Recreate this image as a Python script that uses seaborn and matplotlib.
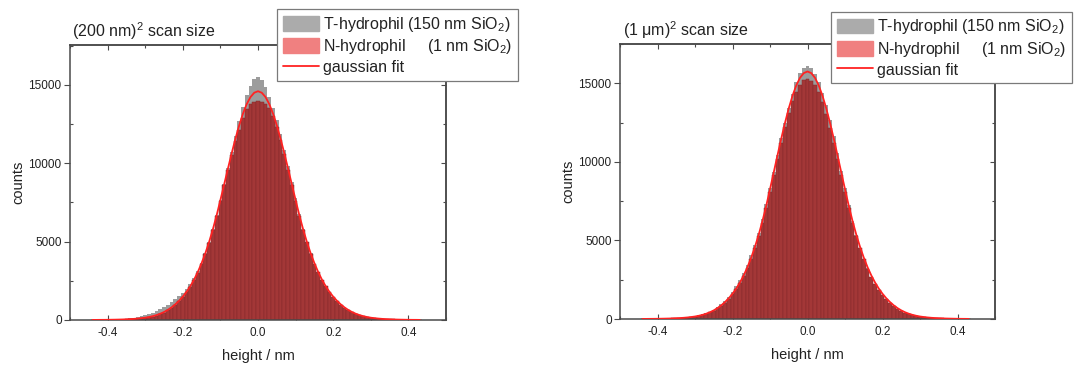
import numpy as np
import pandas as pd
import seaborn as sns
import matplotlib.pyplot as plt
from matplotlib.patches import Patch
from matplotlib.lines import Line2D
from matplotlib.ticker import MultipleLocator, FixedLocator

# ---------------- data ----------------
bin_start = -0.44      # nm, centre of first bin
bin_width = 0.01       # nm

# (200 nm)^2 scan size  -- values from -0.44 nm to 0.43 nm
fit_200 = [4, 6, 9, 10, 13, 18, 22, 28, 35, 45,
           57, 72, 92, 117, 147, 190, 244, 312, 400, 508,
           642, 804, 999, 1225, 1489, 1797, 2158, 2578, 3065, 3627,
           4263, 4983, 5789, 6680, 7655, 8653, 9658, 10640, 11572, 12423,
           13168, 13777, 14228, 14505,
           14600,
           14505, 14228, 13777, 13168, 12423, 11572, 10640, 9658, 8653, 7655,
           6680, 5789, 4983, 4263, 3627, 3065, 2578, 2158, 1797, 1489,
           1225, 999, 804, 642, 508, 400, 312, 244, 190, 147,
           117, 92, 72, 57, 45, 35, 28, 22, 18, 13,
           10, 9, 6]
n_hydrophil_200 = [2, 3, 4, 6, 8, 11, 15, 20, 27, 36,
                   48, 62, 80, 104, 133, 172, 222, 286, 370, 478,
                   610, 770, 965, 1190, 1455, 1765, 2125, 2545, 3030, 3590,
                   4225, 4945, 5750, 6640, 7610, 8600, 9590, 10540, 11400, 12150,
                   12900, 13450, 13780, 13930,
                   13970,
                   13920, 13790, 13520, 13020, 12300, 11480, 10570, 9600, 8600, 7610,
                   6640, 5750, 4950, 4230, 3600, 3040, 2555, 2140, 1780, 1475,
                   1210, 985, 792, 632, 500, 393, 306, 239, 186, 144,
                   114, 90, 70, 55, 43, 34, 27, 21, 17, 12,
                   9, 8, 5]
t_hydrophil_200 = [3, 4, 6, 9, 12, 17, 24, 34, 48, 66,
                   100, 135, 180, 235, 300, 380, 470, 580, 700, 830,
                   980, 1150, 1330, 1500, 1700, 1950, 2280, 2650, 3100, 3640,
                   4260, 4980, 5790, 6690, 7680, 8700, 9730, 10750, 11760, 12720,
                   13600, 14350, 14950, 15350,
                   15500,
                   15300, 14850, 14250, 13550, 12750, 11850, 10880, 9850, 8800, 7760,
                   6750, 5830, 4990, 4250, 3600, 3030, 2540, 2120, 1760, 1455,
                   1195, 970, 780, 622, 492, 387, 301, 235, 183, 141,
                   112, 88, 69, 54, 42, 33, 26, 20, 16, 11,
                   8, 7, 4]

# (1 um)^2 scan size  -- values from -0.44 nm to 0.43 nm
fit_1um = [5, 6, 9, 11, 14, 19, 24, 30, 38, 49,
           61, 77, 99, 126, 159, 205, 263, 337, 432, 548,
           693, 868, 1077, 1321, 1607, 1939, 2328, 2781, 3306, 3912,
           4599, 5375, 6245, 7206, 8258, 9335, 10419, 11479, 12483, 13402,
           14205, 14862, 15348, 15648,
           15750,
           15648, 15348, 14862, 14205, 13402, 12483, 11479, 10419, 9335, 8258,
           7206, 6245, 5375, 4599, 3912, 3306, 2781, 2328, 1939, 1607,
           1321, 1077, 868, 693, 548, 432, 337, 263, 205, 159,
           126, 99, 77, 61, 49, 38, 30, 24, 19, 14,
           11, 9, 6]
n_hydrophil_1um = [4, 5, 8, 10, 13, 17, 22, 28, 36, 46,
                   58, 73, 94, 120, 152, 197, 254, 326, 418, 532,
                   673, 845, 1050, 1290, 1570, 1895, 2280, 2725, 3240, 3835,
                   4510, 5270, 6120, 7060, 8090, 9140, 10200, 11230, 12200, 13080,
                   13850, 14450, 14900, 15180,
                   15250,
                   15170, 14880, 14420, 13800, 13050, 12180, 11220, 10200, 9150, 8100,
                   7070, 6120, 5260, 4490, 3810, 3210, 2690, 2240, 1860, 1535,
                   1255, 1020, 820, 652, 514, 403, 313, 243, 189, 146,
                   115, 90, 70, 55, 44, 34, 27, 21, 17, 12,
                   10, 8, 5]
t_hydrophil_1um = [4, 5, 8, 10, 13, 18, 23, 30, 39, 50,
                   64, 82, 106, 136, 175, 226, 290, 372, 475, 600,
                   755, 940, 1160, 1420, 1720, 2070, 2470, 2930, 3460, 4060,
                   4740, 5500, 6350, 7290, 8310, 9380, 10450, 11500, 12500, 13430,
                   14300, 15050, 15650, 16000,
                   16100,
                   15950, 15600, 15080, 14400, 13600, 12680, 11650, 10560, 9430, 8320,
                   7250, 6250, 5340, 4540, 3840, 3230, 2700, 2245, 1860, 1535,
                   1255, 1020, 820, 652, 514, 403, 313, 243, 189, 146,
                   115, 90, 70, 55, 44, 34, 27, 21, 17, 12,
                   10, 8, 5]

titles = ["(200 nm)$^2$ scan size", "(1 \u03bcm)$^2$ scan size"]
legend_labels = ["T-hydrophil (150 nm SiO$_2$)",
                 "N-hydrophil     (1 nm SiO$_2$)",
                 "gaussian fit"]
x_label = "height / nm"
y_label = "counts"
x_major = [-0.4, -0.2, 0.0, 0.2, 0.4]
y_major = [0, 5000, 10000, 15000]

# ---------------- style ----------------
sns.set_style("ticks")
plt.rcParams["font.family"] = ["Liberation Sans", "DejaVu Sans"]
plt.rcParams["mathtext.fontset"] = "custom"
plt.rcParams["mathtext.rm"] = "Liberation Sans"
plt.rcParams["mathtext.it"] = "Liberation Sans:italic"
plt.rcParams["mathtext.bf"] = "Liberation Sans:bold"
plt.rcParams["mathtext.default"] = "regular"

GREY = "#9c9c9c"
RED_BAR = "#a33737"
RED_EDGE = "#84292b"
FIT = "#ff2222"
SPINE = "#4a4a4a"
TXT = "#222222"

fig = plt.figure(figsize=(10.78, 3.65), dpi=100)
ax_rects = [[70 / 1078, 45 / 365, 376 / 1078, 275 / 365],
            [620 / 1078, 46 / 365, 375 / 1078, 275 / 365]]
ylims = [17550, 17500]
legend_anchor = [(0.5505, 1.13), (0.5627, 1.117)]
title_pos = [(0.006, 1.011), (0.008, 1.011)]

panels = [(t_hydrophil_200, n_hydrophil_200, fit_200),
          (t_hydrophil_1um, n_hydrophil_1um, fit_1um)]

for i, (grey, red, fit) in enumerate(panels):
    ax = fig.add_axes(ax_rects[i])
    centers = np.round(bin_start + bin_width * np.arange(len(fit)), 2)
    edges = list(np.append(centers - bin_width / 2, centers[-1] + bin_width / 2))
    df = pd.DataFrame({"height": centers, "grey": grey, "red": red, "fit": fit})

    sns.histplot(data=df, x="height", weights="grey", bins=edges, ax=ax,
                 color=GREY, alpha=1, linewidth=0, stat="count")
    sns.histplot(data=df, x="height", weights="red", bins=edges, ax=ax,
                 facecolor=RED_BAR, alpha=1, edgecolor=RED_EDGE,
                 linewidth=0.35, stat="count")
    sns.lineplot(data=df, x="height", y="fit", ax=ax, color=FIT,
                 linewidth=1.3, legend=False, zorder=5)

    ax.set_xlim(-0.5, 0.5)
    ax.set_ylim(0, ylims[i])
    ax.set_xlabel(x_label, fontsize=10.5, color=TXT, labelpad=7)
    ax.set_ylabel(y_label, fontsize=10.5, color=TXT, labelpad=2.5)

    ax.xaxis.set_major_locator(FixedLocator(x_major))
    ax.xaxis.set_minor_locator(MultipleLocator(0.1))
    ax.yaxis.set_major_locator(FixedLocator(y_major))
    ax.yaxis.set_minor_locator(MultipleLocator(2500))
    ax.set_xticklabels([f"{v:.1f}" for v in x_major])
    ax.set_yticklabels([str(v) for v in y_major])

    for sp in ax.spines.values():
        sp.set_color(SPINE)
        sp.set_linewidth(1.1)
        sp.set_visible(True)

    ax.tick_params(axis="x", which="major", direction="in", length=3.8,
                   width=0.8, color=SPINE, labelsize=8.5, labelcolor=TXT, pad=5)
    ax.tick_params(axis="x", which="minor", direction="in", length=2.4,
                   width=0.8, color=SPINE)
    ax.tick_params(axis="y", which="major", direction="out", length=4.5,
                   width=0.8, color=SPINE, labelsize=8.5, labelcolor=TXT, pad=1.5)
    ax.tick_params(axis="y", which="minor", direction="in", length=2.4,
                   width=0.8, color=SPINE)

    top = ax.secondary_xaxis("top")
    top.xaxis.set_major_locator(FixedLocator(x_major))
    top.xaxis.set_minor_locator(MultipleLocator(0.1))
    top.tick_params(axis="x", which="major", direction="in", length=3.8,
                    width=0.8, color=SPINE, labeltop=False)
    top.tick_params(axis="x", which="minor", direction="in", length=2.4,
                    width=0.8, color=SPINE)
    top.spines["top"].set_color(SPINE)
    top.spines["top"].set_linewidth(1.1)

    right = ax.secondary_yaxis("right")
    right.yaxis.set_major_locator(FixedLocator(y_major))
    right.yaxis.set_minor_locator(MultipleLocator(2500))
    right.tick_params(axis="y", which="major", direction="in", length=3.8,
                      width=0.8, color=SPINE, labelright=False)
    right.tick_params(axis="y", which="minor", direction="in", length=2.4,
                      width=0.8, color=SPINE)
    right.spines["right"].set_color(SPINE)
    right.spines["right"].set_linewidth(1.1)

    ax.text(title_pos[i][0], title_pos[i][1], titles[i], transform=ax.transAxes,
            fontsize=11.5, color=TXT, ha="left", va="bottom")

    handles = [Patch(facecolor="#ababab", edgecolor="#ababab"),
               Patch(facecolor="#f08080", edgecolor="#f08080"),
               Line2D([], [], color=FIT, linewidth=1.3)]
    leg = ax.legend(handles, legend_labels, loc="upper left",
                    bbox_to_anchor=legend_anchor[i], fontsize=11.5,
                    frameon=True, fancybox=False, framealpha=1,
                    edgecolor="#7a7a7a", borderpad=0.35, labelspacing=0.2,
                    handlelength=2.3, handleheight=1.05, handletextpad=0.25,
                    borderaxespad=0)
    leg.get_frame().set_linewidth(0.9)
    for t in leg.get_texts():
        t.set_color(TXT)
    leg.set_zorder(10)

fig.savefig("out.png", dpi=100)
